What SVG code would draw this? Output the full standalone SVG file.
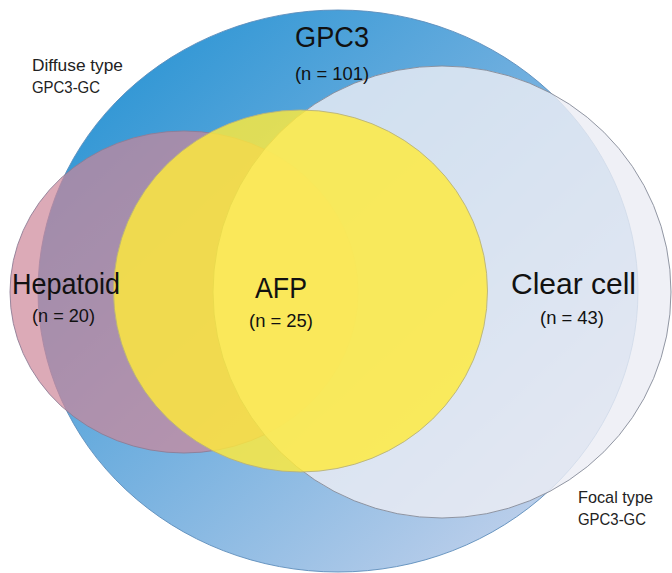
<svg xmlns="http://www.w3.org/2000/svg" width="672" height="573" viewBox="0 0 672 573">
  <defs>
    <linearGradient id="blueGrad" gradientUnits="userSpaceOnUse" x1="100" y1="60" x2="560" y2="560">
      <stop offset="0" stop-color="#2c95d4"/>
      <stop offset="0.5" stop-color="#78b2e0"/>
      <stop offset="1" stop-color="#c6d3ec"/>
    </linearGradient>
  </defs>
  <style>
    .set { stroke-width: 0.9; }
    .big { font-family: "Liberation Sans", Arial, sans-serif; font-size: 30px; fill: #111; text-anchor: middle; }
    .n { font-family: "Liberation Sans", Arial, sans-serif; font-size: 18px; fill: #111; text-anchor: middle; }
    .side { font-family: "Liberation Sans", Arial, sans-serif; font-size: 17px; fill: #222; }
  </style>
  <rect width="672" height="573" fill="#ffffff"/>

  <g id="gpc3">
    <ellipse class="set" cx="338" cy="291" rx="300" ry="281" fill="url(#blueGrad)" stroke="#5d8dbb"/>
  </g>
  <g id="hepatoid">
    <ellipse class="set" cx="184" cy="292" rx="174" ry="161" fill="#cd8699" fill-opacity="0.7" stroke="#8f7d95"/>
  </g>
  <g id="clear-cell">
    <ellipse class="set" cx="442" cy="292" rx="229" ry="226" fill="#ecedf4" fill-opacity="0.82" stroke="#868b98"/>
  </g>
  <g id="afp">
    <ellipse class="set" cx="300.5" cy="291" rx="187" ry="181" fill="#ffea3a" fill-opacity="0.82" stroke="#b8b27a"/>
  </g>

  <g id="labels">
    <text class="big" x="332" y="47" textLength="74" lengthAdjust="spacingAndGlyphs">GPC3</text>
    <text class="n" x="332" y="80" textLength="74" lengthAdjust="spacingAndGlyphs">(n = 101)</text>
    <text class="big" x="66" y="294" textLength="108" lengthAdjust="spacingAndGlyphs">Hepatoid</text>
    <text class="n" x="63.5" y="322" textLength="63" lengthAdjust="spacingAndGlyphs">(n = 20)</text>
    <text class="big" x="281" y="298" textLength="52" lengthAdjust="spacingAndGlyphs">AFP</text>
    <text class="n" x="281" y="327" textLength="64" lengthAdjust="spacingAndGlyphs">(n = 25)</text>
    <text class="big" x="573.5" y="294" textLength="125" lengthAdjust="spacingAndGlyphs">Clear cell</text>
    <text class="n" x="572" y="324" textLength="64" lengthAdjust="spacingAndGlyphs">(n = 43)</text>
    <text class="side" x="32" y="71" textLength="91" lengthAdjust="spacingAndGlyphs">Diffuse type</text>
    <text class="side" x="32" y="93" textLength="68" lengthAdjust="spacingAndGlyphs">GPC3-GC</text>
    <text class="side" x="578" y="503" textLength="75" lengthAdjust="spacingAndGlyphs">Focal type</text>
    <text class="side" x="578" y="525" textLength="68" lengthAdjust="spacingAndGlyphs">GPC3-GC</text>
  </g>
</svg>
